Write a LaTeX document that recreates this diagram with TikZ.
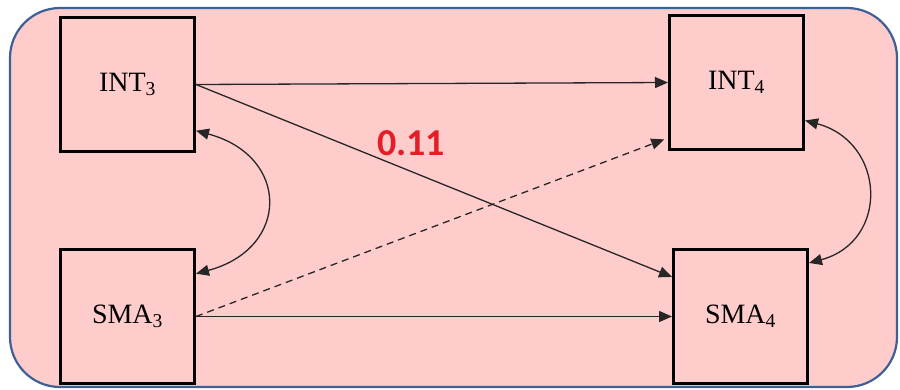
\documentclass[tikz,border=0pt]{standalone}
\usepackage{fontspec}
\setmainfont{Liberation Serif}
\newfontfamily\labelfont{Carlito}
\usetikzlibrary{arrows.meta}
\definecolor{panelpink}{RGB}{255,204,204}
\definecolor{panelblue}{RGB}{62,96,150}
\definecolor{coefred}{RGB}{228,30,38}

\begin{document}
\begin{tikzpicture}[x=1pt, y=1pt,
  varbox/.style={draw, line width=3pt, minimum size=134pt, inner sep=0pt,
    font=\fontsize{28}{32}\selectfont},
  path/.style={-{Triangle[length=13pt,width=11pt]}, line width=1.3pt, black!85},
  corr/.style={{Triangle[length=13pt,width=11pt]}-{Triangle[length=13pt,width=11pt]}, line width=1.3pt, black!85}]
  \useasboundingbox (0,0) rectangle (900,389);
  \draw[panelblue, fill=panelpink, line width=2.2pt, rounded corners=50pt] (10,2) rectangle (897,381);

  \node[varbox] (int3) at (127.5,304.5) {INT\textsubscript{3}};
  \node[varbox] (int4) at (736.5,306.5) {INT\textsubscript{4}};
  \node[varbox] (sma3) at (127.5,72.5) {SMA\textsubscript{3}};
  \node[varbox] (sma4) at (740.5,72.5) {SMA\textsubscript{4}};

  \draw[path] (int3.east) -- (int4.west);
  \draw[path] (int3.east) -- (sma4.150);
  \draw[path] (sma3.east) -- (sma4.west);
  \draw[path, dashed, dash pattern=on 7pt off 5pt, shorten >=4pt] (sma3.east) -- (int4.219);
  \draw[corr] (int3.-34) to[out=-15, in=15, looseness=1.75] (sma3.32);
  \draw[corr] (int4.-29) to[out=-15, in=15, looseness=1.5] (sma4.38);

  \node[text=coefred, font=\labelfont\bfseries\fontsize{38}{40}\selectfont] (coef) at (411,246) {0.11};
\end{tikzpicture}
\end{document}
